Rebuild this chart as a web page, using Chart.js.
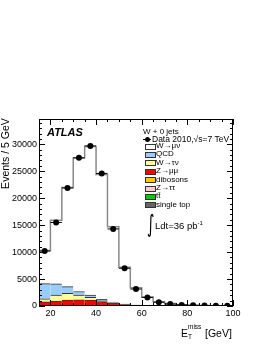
<!DOCTYPE html>
<html>
<head>
<meta charset="utf-8">
<script src="https://cdn.jsdelivr.net/npm/chart.js@4.4.1/dist/chart.umd.min.js"></script>
<style>
    html, body { margin: 0; padding: 0; background: #fff; }
    #wrap {
        position: relative;
        width: 266px;
        height: 344px;
        overflow: hidden;
        font-family: "Liberation Sans", Arial, sans-serif;
        color: #000;
    }
    #chart { position: absolute; left: 0; top: 0; }
    .txt { position: absolute; white-space: nowrap; line-height: 1; }
    .leg { position: absolute; left: 0; font-size: 8px; line-height: 1; white-space: nowrap; }
    .box { position: absolute; left: 145px; width: 9px; height: 4px; border: 0.8px solid #333; }
</style>
</head>
<body>
<div id="wrap">
    <canvas id="chart" width="266" height="344"></canvas>

    <!-- titres et annotations -->
    <div class="txt" style="left:-31px; top:149px; width:72px; font-size:10.5px; transform:rotate(-90deg); text-align:right;">Events / 5 GeV</div>
    <div class="txt" style="left:47px; top:127px; font-size:11px; font-weight:bold; font-style:italic;">ATLAS</div>
    <div class="txt" style="left:147px; top:212px; font-size:24px; font-family:'DejaVu Sans', sans-serif; transform:scaleX(0.6); transform-origin:left top;">∫</div>
    <div class="txt" style="left:155px; top:221px; font-size:9.5px;">Ldt=36 pb<span style="font-size:6px; position:relative; top:-4px;">-1</span></div>

    <!-- titre de l'axe x : E_T^miss [GeV] -->
    <div class="txt" style="left:181px; top:328px; font-size:10.5px;">E</div>
    <div class="txt" style="left:188px; top:324px; font-size:6.5px;">miss</div>
    <div class="txt" style="left:188px; top:334px; font-size:6.5px;">T</div>
    <div class="txt" style="left:205px; top:328px; font-size:10.5px;">[GeV]</div>

    <div id="legend"></div>
</div>

<script>
// ==============================
//  DONNÉES
// ==============================

// Centres des intervalles en E_T^miss [GeV], pas de 5 GeV
const binCenters = [17.5, 22.5, 27.5, 32.5, 37.5, 42.5, 47.5, 52.5, 57.5, 62.5, 67.5, 72.5, 77.5, 82.5, 87.5, 92.5, 97.5];
const binWidth = 5;

// Données 2010
const dataCounts = [10200, 15500, 21900, 27500, 29700, 24600, 14300, 7000, 3150, 1600, 700, 350, 200, 120, 80, 60, 40];

// Simulation empilée (du bas vers le haut)
const singleTop = [3, 4, 4, 5, 5, 5, 5, 5, 5, 4, 4, 4, 3, 3, 3, 3, 3];
const ttbar     = [5, 6, 7, 8, 9, 10, 10, 10, 10, 10, 10, 9, 9, 8, 8, 7, 7];
const zTauTau   = [60, 70, 60, 40, 25, 15, 8, 4, 2, 1, 0, 0, 0, 0, 0, 0, 0];
const dibosons  = [20, 25, 30, 30, 30, 25, 20, 15, 12, 10, 8, 6, 5, 4, 3, 3, 2];
const zMuMu     = [700, 800, 1000, 1050, 1050, 750, 500, 250, 100, 50, 25, 12, 6, 3, 2, 1, 1];
const wTauNu    = [550, 1100, 1250, 900, 500, 150, 60, 30, 15, 8, 4, 2, 1, 0, 0, 0, 0];
const qcd       = [2800, 2100, 1250, 650, 400, 300, 120, 50, 20, 10, 5, 0, 0, 0, 0, 0, 0];
const wMuNu     = [6160, 11800, 18400, 24800, 27600, 23150, 14000, 6840, 3240, 1600, 740, 420, 225, 130, 85, 55, 37];

// Axes
const xTickValues = [20, 40, 60, 80, 100];
const yTickValues = [0, 5000, 10000, 15000, 20000, 25000, 30000];
const xRange = [15, 100];
const yRange = [0, 34700];

// ==============================
//  STYLES
// ==============================

const stackSeries = [
    { label: "single top", values: singleTop, color: "#666666" },
    { label: "tt\u0304",   values: ttbar,     color: "#00cc00" },
    { label: "Z\u2192\u03c4\u03c4", values: zTauTau, color: "#ffcccc" },
    { label: "dibosons",   values: dibosons,  color: "#ffcc00" },
    { label: "Z\u2192\u03bc\u03bc", values: zMuMu,   color: "#ff0000" },
    { label: "W\u2192\u03c4\u03bd", values: wTauNu,  color: "#ffff99" },
    { label: "QCD",        values: qcd,       color: "#99ccff" },
    { label: "W\u2192\u03bc\u03bd", values: wMuNu,   color: "#ffffff" }
];

// Total de la simulation, pour le contour en escalier
const mcTotal = binCenters.map((_, i) =>
    stackSeries.reduce((sum, s) => sum + s.values[i], 0)
);

// ==============================
//  LÉGENDE (HTML)
// ==============================

function buildLegend() {
    const legend = document.getElementById("legend");
    let html = '<div class="leg" style="left:143px; top:127.5px;">W + 0 jets</div>';
    // Marqueur des données : trait + point
    html += '<div style="position:absolute; left:143px; top:139px; width:8px; height:1px; background:#000;"></div>';
    html += '<div style="position:absolute; left:145px; top:137px; width:5px; height:5px; border-radius:50%; background:#000;"></div>';
    html += '<div class="leg" style="left:152px; top:135px; font-size:8.5px;">Data 2010,\u221As=7 TeV</div>';

    // Ordre de la légende : du haut de la pile vers le bas
    const order = stackSeries.slice().reverse();
    order.forEach(function (s, i) {
        const yc = 146 + i * 8.4;
        html += `<div class="box" style="top:${yc - 2.5}px; background:${s.color};"></div>`;
        html += `<div class="leg" style="left:156px; top:${yc - 4}px;">${s.label}</div>`;
    });
    legend.innerHTML = html;
}

// ==============================
//  CADRE + GRADUATIONS INTÉRIEURES (style ROOT)
// ==============================

const rootFrame = {
    id: "rootFrame",
    afterDraw(chart) {
        const { ctx, chartArea: a, scales } = chart;
        const x = scales.x;
        const y = scales.y;
        ctx.save();
        ctx.strokeStyle = "#000";
        ctx.lineWidth = 1;
        ctx.strokeRect(a.left + 0.5, a.top + 0.5, a.right - a.left - 1, a.bottom - a.top - 1);

        ctx.beginPath();
        for (let v = xRange[0]; v <= xRange[1]; v += 5) {
            const px = Math.round(x.getPixelForValue(v)) + 0.5;
            const len = v % 20 === 0 ? 6 : 3;
            ctx.moveTo(px, a.bottom);
            ctx.lineTo(px, a.bottom - len);
            ctx.moveTo(px, a.top);
            ctx.lineTo(px, a.top + len);
        }
        for (let v = yRange[0]; v <= yRange[1]; v += 1000) {
            const py = Math.round(y.getPixelForValue(v)) + 0.5;
            const len = v % 5000 === 0 ? 6 : 3;
            ctx.moveTo(a.left, py);
            ctx.lineTo(a.left + len, py);
            ctx.moveTo(a.right, py);
            ctx.lineTo(a.right - len, py);
        }
        ctx.stroke();
        ctx.restore();
    }
};

// ==============================
//  GRAPHIQUE
// ==============================

function renderChart() {
    const ctx = document.getElementById("chart").getContext("2d");

    const barSets = stackSeries.map(function (s) {
        const outlined = s.color !== "#ffffff";
        return {
            type: "bar",
            label: s.label,
            data: binCenters.map((c, i) => ({ x: c, y: s.values[i] })),
            backgroundColor: s.color,
            borderColor: "#333333",
            borderWidth: outlined ? { top: 1, left: 0, right: 0, bottom: 0 } : 0,
            borderSkipped: false,
            barPercentage: 1,
            categoryPercentage: 1,
            stack: "mc",
            order: 3
        };
    });

    // Contour en escalier du total MC (bords gauches + bord final)
    const stepPoints = binCenters.map((c, i) => ({ x: c - binWidth / 2, y: mcTotal[i] }));
    stepPoints.push({ x: xRange[1], y: mcTotal[mcTotal.length - 1] });

    const datasets = barSets.concat([
        {
            type: "line",
            label: "total",
            data: stepPoints,
            stepped: "before",
            borderColor: "#8a8a8a",
            borderWidth: 1.5,
            pointRadius: 0,
            fill: false,
            stack: "line",
            order: 2
        },
        {
            // barres d'erreur horizontales (largeur du bin)
            type: "scatter",
            label: "xerr",
            data: binCenters.map((c, i) => ({ x: c, y: dataCounts[i] })),
            pointStyle: "line",
            pointRadius: 5.7,
            borderColor: "#000",
            borderWidth: 1,
            stack: "xerr",
            order: 1
        },
        {
            type: "scatter",
            label: "Data 2010",
            data: binCenters.map((c, i) => ({ x: c, y: dataCounts[i] })),
            pointStyle: "circle",
            pointRadius: 3,
            backgroundColor: "#000",
            borderColor: "#000",
            borderWidth: 0,
            stack: "data",
            order: 0
        }
    ]);

    new Chart(ctx, {
        type: "bar",
        data: { datasets: datasets },
        options: {
            responsive: false,
            animation: false,
            devicePixelRatio: 1,
            layout: { padding: { left: 0, top: 119, right: 33, bottom: 0 } },
            plugins: {
                legend: { display: false },
                tooltip: { enabled: false }
            },
            scales: {
                x: {
                    type: "linear",
                    min: xRange[0],
                    max: xRange[1],
                    offset: false,
                    stacked: true,
                    grid: { display: false, drawTicks: false, offset: false },
                    border: { display: false },
                    afterBuildTicks: function (scale) {
                        scale.ticks = xTickValues.map(v => ({ value: v }));
                    },
                    afterFit: function (scale) { scale.height = 38; },
                    ticks: {
                        color: "#000",
                        padding: 2,
                        maxRotation: 0,
                        autoSkip: false,
                        font: { family: "'Liberation Sans', Arial, sans-serif", size: 9 },
                        callback: v => String(v)
                    }
                },
                y: {
                    min: yRange[0],
                    max: yRange[1],
                    stacked: true,
                    grid: { display: false, drawTicks: false },
                    border: { display: false },
                    afterBuildTicks: function (scale) {
                        scale.ticks = yTickValues.map(v => ({ value: v }));
                    },
                    afterFit: function (scale) { scale.width = 39; },
                    ticks: {
                        color: "#000",
                        padding: 2,
                        autoSkip: false,
                        font: { family: "'Liberation Sans', Arial, sans-serif", size: 9 },
                        callback: v => String(v)
                    }
                }
            }
        },
        plugins: [rootFrame]
    });
}

document.addEventListener("DOMContentLoaded", function () {
    buildLegend();
    renderChart();
});
</script>
</body>
</html>
